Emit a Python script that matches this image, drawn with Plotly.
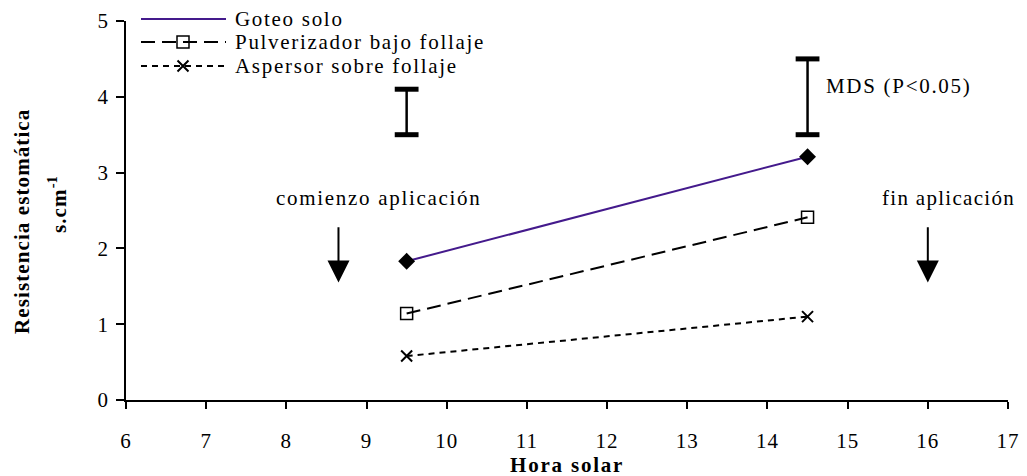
import plotly.graph_objects as go

# ---- data ----
hours = [9.5, 14.5]
goteo = [1.83, 3.21]
pulverizador = [1.14, 2.41]
aspersor = [0.58, 1.10]
series_names = ["Goteo solo", "Pulverizador bajo follaje", "Aspersor sobre follaje"]

mds_x = [9.5, 14.5]
mds_low = [3.5, 3.5]
mds_high = [4.1, 4.5]

x_ticks = list(range(6, 18))
y_ticks = list(range(0, 6))

arrow_x = [8.65, 16.0]
arrow_tail = 2.30
arrow_tip = 1.55

FONT = "Liberation Serif"
PURPLE = "#441a8c"
OFF = 8  # page body margin


def sp(text, ls=1.7):
    return f'<span style="letter-spacing:{ls}px">{text}</span>'


fig = go.Figure()

styles = [
    dict(line=dict(color=PURPLE, width=2), marker=dict(symbol="diamond", size=13, color="black")),
    dict(line=dict(color="black", width=2, dash="14px,7px"),
         marker=dict(symbol="square-open", size=12, color="black", line=dict(width=1.5, color="black"))),
    dict(line=dict(color="black", width=2, dash="6px,5px"),
         marker=dict(symbol="x-thin-open", size=11, color="black", line=dict(width=2, color="black"))),
]
for name, ys, st in zip(series_names, [goteo, pulverizador, aspersor], styles):
    fig.add_trace(go.Scatter(x=hours, y=ys, mode="lines+markers", name=name,
                             line=st["line"], marker=st["marker"], showlegend=False,
                             cliponaxis=False))

# MDS bars: vertical stems + thick caps
mid = [(a + b) / 2 for a, b in zip(mds_low, mds_high)]
half = [(b - a) / 2 for a, b in zip(mds_low, mds_high)]
fig.add_trace(go.Scatter(x=mds_x, y=mid, mode="markers", marker=dict(size=0.1, color="rgba(0,0,0,0)"),
                         error_y=dict(type="data", array=half, visible=True, color="black",
                                      thickness=2.5, width=0),
                         showlegend=False, hoverinfo="skip"))
fig.add_trace(go.Scatter(x=mds_x + mds_x, y=mds_low + mds_high, mode="markers",
                         marker=dict(symbol="line-ew", size=17, line=dict(width=5, color="black")),
                         showlegend=False, hoverinfo="skip"))

# ---- manual legend (paper coords) ----
leg_rows_px = [19, 42, 66]
plot_left, plot_right, plot_top, plot_bottom = 126, 1008, 21, 400


def px_x(p):
    return (p - plot_left) / (plot_right - plot_left)


def px_y(p):
    return (plot_bottom - p) / (plot_bottom - plot_top)


leg_line_x0, leg_line_x1, leg_mark_x, leg_text_x = px_x(141), px_x(226), px_x(183), px_x(233)
dashes = ["solid", "14px,7px", "6px,5px"]
colors = [PURPLE, "black", "black"]
for i, (name, st) in enumerate(zip(series_names, styles)):
    yy = px_y(leg_rows_px[i])
    fig.add_shape(type="line", xref="paper", yref="paper", x0=leg_line_x0, x1=leg_line_x1,
                  y0=yy, y1=yy, line=dict(color=colors[i], width=2, dash=dashes[i]))
    fig.add_trace(go.Scatter(x=[leg_mark_x], y=[yy], xaxis="x2", yaxis="y2", mode="markers",
                             marker=st["marker"] if i != 1 else dict(symbol="square", size=12, color="white",
                                                                     line=dict(width=1.5, color="black")),
                             showlegend=False, cliponaxis=False, hoverinfo="skip"))
    fig.add_annotation(xref="paper", yref="paper", x=leg_text_x, y=yy, text=sp(name), showarrow=False,
                       xanchor="left", yanchor="middle", font=dict(family=FONT, size=21, color="black"))

# ---- arrows and labels ----
for ax_ in arrow_x:
    fig.add_annotation(x=ax_, y=arrow_tip, ax=ax_, ay=arrow_tail, xref="x", yref="y",
                       axref="x", ayref="y", showarrow=True, arrowhead=2, arrowsize=2.2,
                       arrowwidth=2, arrowcolor="black", text="")
txt_font = dict(family=FONT, size=21, color="black")
fig.add_annotation(x=9.15, y=2.66, text=sp("comienzo aplicación"), showarrow=False,
                   xanchor="center", yanchor="middle", font=txt_font)
fig.add_annotation(x=16.26, y=2.66, text=sp("fin aplicación", 1.3), showarrow=False,
                   xanchor="center", yanchor="middle", font=txt_font)
fig.add_annotation(x=14.70, y=4.14, text=sp("MDS (P&lt;0.05)"), showarrow=False,
                   xanchor="left", yanchor="middle", font=txt_font)

# y title
fig.add_annotation(xref="paper", yref="paper", x=px_x(22), y=px_y(222),
                   text="<b>" + sp("Resistencia estomática", 1.1) + "</b>",
                   textangle=-90, showarrow=False, xanchor="center", yanchor="middle",
                   font=dict(family=FONT, size=21, color="black"))
fig.add_annotation(xref="paper", yref="paper", x=px_x(58), y=px_y(205),
                   text="<b>" + sp("s.cm", 1.1) + "<sup>-1</sup></b>",
                   textangle=-90, showarrow=False, xanchor="center", yanchor="middle",
                   font=dict(family=FONT, size=21, color="black"))
# x title
fig.add_annotation(xref="paper", yref="paper", x=0.5, y=px_y(465),
                   text="<b>" + sp("Hora solar", 1.8) + "</b>",
                   showarrow=False, xanchor="center", yanchor="middle",
                   font=dict(family=FONT, size=21, color="black"))

axis_common = dict(showgrid=False, zeroline=False, showline=True, linecolor="black", linewidth=1.5,
                   ticks="outside", tickcolor="black", tickwidth=1.5, automargin=False,
                   tickfont=dict(family=FONT, size=21, color="black"))
W, H = 1027 - OFF, 476 - OFF
fig.update_layout(
    width=W, height=H,
    margin=dict(l=plot_left - OFF, r=W - (plot_right - OFF), t=plot_top - OFF, b=H - (plot_bottom - OFF), pad=0),
    paper_bgcolor="white", plot_bgcolor="white",
    xaxis=dict(range=[6, 17], tickvals=x_ticks, ticktext=[sp(str(t), 1.0) for t in x_ticks],
               ticklen=7, ticklabelstandoff=14, **axis_common),
    yaxis=dict(range=[0, 5], tickvals=y_ticks, ticklen=8, ticklabelstandoff=4, **axis_common),
    xaxis2=dict(overlaying="x", range=[0, 1], visible=False),
    yaxis2=dict(overlaying="y", range=[0, 1], visible=False),
    showlegend=False,
)
fig.write_html("out.html")
